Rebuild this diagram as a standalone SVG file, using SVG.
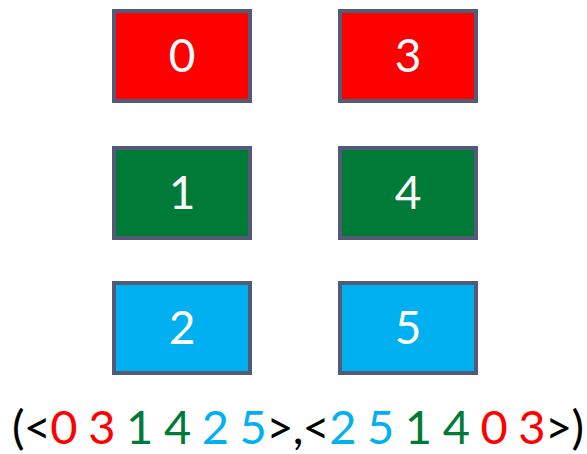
<svg xmlns="http://www.w3.org/2000/svg" width="587" height="454" viewBox="0 0 587 454">
<style>
.box{stroke:#535a78;stroke-width:4}
.lbl{font-family:Lato,"Open Sans",sans-serif;font-size:46px;fill:#fff;text-anchor:middle}
.seq{font-family:Lato,"Open Sans",sans-serif;font-size:47px}
.r{fill:#ff0000}.g{fill:#007a37}.b{fill:#00b0f0}.k{fill:#000}
</style>
<rect width="587" height="454" fill="#fff"/>
<g id="n0"><rect class="box" x="114" y="11" width="136" height="90" fill="#ff0000"/><text class="lbl" x="182" y="72">0</text></g>
<g id="n3"><rect class="box" x="340" y="11" width="136" height="90" fill="#ff0000"/><text class="lbl" x="408" y="72">3</text></g>
<g id="n1"><rect class="box" x="114" y="148" width="136" height="90" fill="#007a37"/><text class="lbl" x="182" y="209">1</text></g>
<g id="n4"><rect class="box" x="340" y="148" width="136" height="90" fill="#007a37"/><text class="lbl" x="408" y="209">4</text></g>
<g id="n2"><rect class="box" x="114" y="283" width="136" height="90" fill="#00b0f0"/><text class="lbl" x="182" y="344">2</text></g>
<g id="n5"><rect class="box" x="340" y="283" width="136" height="90" fill="#00b0f0"/><text class="lbl" x="408" y="344">5</text></g>
<g id="connectors"></g>
<text class="seq" x="12" y="444" textLength="572" lengthAdjust="spacing"><tspan class="k">(&lt;</tspan><tspan class="r">0 3 </tspan><tspan class="g">1 4 </tspan><tspan class="b">2 5</tspan><tspan class="k">&gt;,&lt;</tspan><tspan class="b">2 5 </tspan><tspan class="g">1 4 </tspan><tspan class="r">0 3</tspan><tspan class="k">&gt;)</tspan></text>
</svg>
